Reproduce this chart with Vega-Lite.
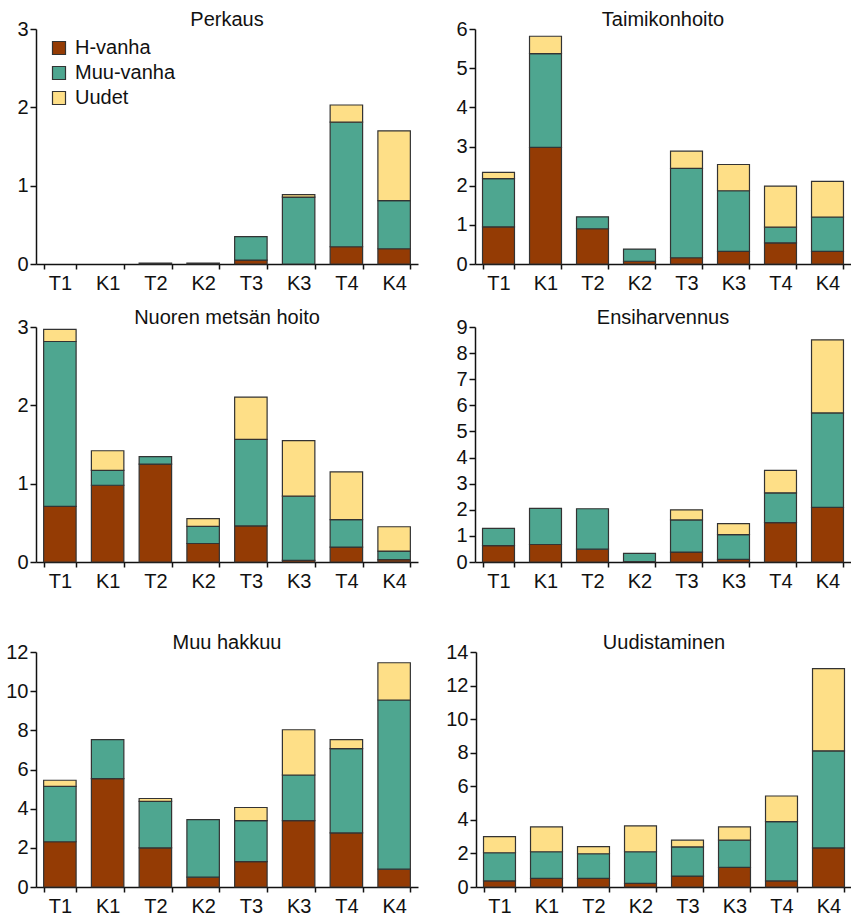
{
  "$schema": "https://vega.github.io/schema/vega-lite/v6.json",
  "padding": {"left": 5, "top": 10, "right": 0, "bottom": 0},
  "config": {
    "font": "Liberation Sans",
    "view": {"stroke": null},
    "title": {"fontSize": 20, "fontWeight": "normal", "color": "#111", "offset": -11, "frame": "group"},
    "axis": {"grid": false, "domainColor": "#111", "tickColor": "#111", "labelColor": "#111", "labelFontSize": 20, "domainWidth": 1.5, "tickWidth": 1.5},
    "axisX": {"tickBand": "extent", "tickSize": 5, "labelAngle": 0, "labelPadding": 4},
    "axisY": {"tickSize": 6, "labelPadding": 2, "minExtent": 30, "maxExtent": 30},
    "bar": {"stroke": "#333", "strokeWidth": 1.2}
  },
  "datasets": {
    "d": [
      {"p": "Perkaus", "c": "T2", "s": "H-vanha", "v": 0.01},
      {"p": "Perkaus", "c": "K2", "s": "Muu-vanha", "v": 0.01},
      {"p": "Perkaus", "c": "T3", "s": "H-vanha", "v": 0.05},
      {"p": "Perkaus", "c": "T3", "s": "Muu-vanha", "v": 0.30},
      {"p": "Perkaus", "c": "K3", "s": "Muu-vanha", "v": 0.855},
      {"p": "Perkaus", "c": "K3", "s": "Uudet", "v": 0.03},
      {"p": "Perkaus", "c": "T4", "s": "H-vanha", "v": 0.22},
      {"p": "Perkaus", "c": "T4", "s": "Muu-vanha", "v": 1.59},
      {"p": "Perkaus", "c": "T4", "s": "Uudet", "v": 0.22},
      {"p": "Perkaus", "c": "K4", "s": "H-vanha", "v": 0.195},
      {"p": "Perkaus", "c": "K4", "s": "Muu-vanha", "v": 0.615},
      {"p": "Perkaus", "c": "K4", "s": "Uudet", "v": 0.89},

      {"p": "Taimikonhoito", "c": "T1", "s": "H-vanha", "v": 0.95},
      {"p": "Taimikonhoito", "c": "T1", "s": "Muu-vanha", "v": 1.23},
      {"p": "Taimikonhoito", "c": "T1", "s": "Uudet", "v": 0.16},
      {"p": "Taimikonhoito", "c": "K1", "s": "H-vanha", "v": 2.98},
      {"p": "Taimikonhoito", "c": "K1", "s": "Muu-vanha", "v": 2.39},
      {"p": "Taimikonhoito", "c": "K1", "s": "Uudet", "v": 0.445},
      {"p": "Taimikonhoito", "c": "T2", "s": "H-vanha", "v": 0.9},
      {"p": "Taimikonhoito", "c": "T2", "s": "Muu-vanha", "v": 0.305},
      {"p": "Taimikonhoito", "c": "K2", "s": "H-vanha", "v": 0.07},
      {"p": "Taimikonhoito", "c": "K2", "s": "Muu-vanha", "v": 0.31},
      {"p": "Taimikonhoito", "c": "T3", "s": "H-vanha", "v": 0.16},
      {"p": "Taimikonhoito", "c": "T3", "s": "Muu-vanha", "v": 2.28},
      {"p": "Taimikonhoito", "c": "T3", "s": "Uudet", "v": 0.44},
      {"p": "Taimikonhoito", "c": "K3", "s": "H-vanha", "v": 0.32},
      {"p": "Taimikonhoito", "c": "K3", "s": "Muu-vanha", "v": 1.55},
      {"p": "Taimikonhoito", "c": "K3", "s": "Uudet", "v": 0.67},
      {"p": "Taimikonhoito", "c": "T4", "s": "H-vanha", "v": 0.54},
      {"p": "Taimikonhoito", "c": "T4", "s": "Muu-vanha", "v": 0.40},
      {"p": "Taimikonhoito", "c": "T4", "s": "Uudet", "v": 1.05},
      {"p": "Taimikonhoito", "c": "K4", "s": "H-vanha", "v": 0.32},
      {"p": "Taimikonhoito", "c": "K4", "s": "Muu-vanha", "v": 0.88},
      {"p": "Taimikonhoito", "c": "K4", "s": "Uudet", "v": 0.91},

      {"p": "Nuoren metsän hoito", "c": "T1", "s": "H-vanha", "v": 0.71},
      {"p": "Nuoren metsän hoito", "c": "T1", "s": "Muu-vanha", "v": 2.105},
      {"p": "Nuoren metsän hoito", "c": "T1", "s": "Uudet", "v": 0.155},
      {"p": "Nuoren metsän hoito", "c": "K1", "s": "H-vanha", "v": 0.98},
      {"p": "Nuoren metsän hoito", "c": "K1", "s": "Muu-vanha", "v": 0.19},
      {"p": "Nuoren metsän hoito", "c": "K1", "s": "Uudet", "v": 0.25},
      {"p": "Nuoren metsän hoito", "c": "T2", "s": "H-vanha", "v": 1.25},
      {"p": "Nuoren metsän hoito", "c": "T2", "s": "Muu-vanha", "v": 0.095},
      {"p": "Nuoren metsän hoito", "c": "K2", "s": "H-vanha", "v": 0.236},
      {"p": "Nuoren metsän hoito", "c": "K2", "s": "Muu-vanha", "v": 0.218},
      {"p": "Nuoren metsän hoito", "c": "K2", "s": "Uudet", "v": 0.10},
      {"p": "Nuoren metsän hoito", "c": "T3", "s": "H-vanha", "v": 0.46},
      {"p": "Nuoren metsän hoito", "c": "T3", "s": "Muu-vanha", "v": 1.105},
      {"p": "Nuoren metsän hoito", "c": "T3", "s": "Uudet", "v": 0.54},
      {"p": "Nuoren metsän hoito", "c": "K3", "s": "H-vanha", "v": 0.02},
      {"p": "Nuoren metsän hoito", "c": "K3", "s": "Muu-vanha", "v": 0.82},
      {"p": "Nuoren metsän hoito", "c": "K3", "s": "Uudet", "v": 0.71},
      {"p": "Nuoren metsän hoito", "c": "T4", "s": "H-vanha", "v": 0.19},
      {"p": "Nuoren metsän hoito", "c": "T4", "s": "Muu-vanha", "v": 0.35},
      {"p": "Nuoren metsän hoito", "c": "T4", "s": "Uudet", "v": 0.61},
      {"p": "Nuoren metsän hoito", "c": "K4", "s": "H-vanha", "v": 0.03},
      {"p": "Nuoren metsän hoito", "c": "K4", "s": "Muu-vanha", "v": 0.11},
      {"p": "Nuoren metsän hoito", "c": "K4", "s": "Uudet", "v": 0.31},

      {"p": "Ensiharvennus", "c": "T1", "s": "H-vanha", "v": 0.63},
      {"p": "Ensiharvennus", "c": "T1", "s": "Muu-vanha", "v": 0.66},
      {"p": "Ensiharvennus", "c": "K1", "s": "H-vanha", "v": 0.67},
      {"p": "Ensiharvennus", "c": "K1", "s": "Muu-vanha", "v": 1.38},
      {"p": "Ensiharvennus", "c": "T2", "s": "H-vanha", "v": 0.49},
      {"p": "Ensiharvennus", "c": "T2", "s": "Muu-vanha", "v": 1.55},
      {"p": "Ensiharvennus", "c": "K2", "s": "H-vanha", "v": 0.02},
      {"p": "Ensiharvennus", "c": "K2", "s": "Muu-vanha", "v": 0.31},
      {"p": "Ensiharvennus", "c": "T3", "s": "H-vanha", "v": 0.38},
      {"p": "Ensiharvennus", "c": "T3", "s": "Muu-vanha", "v": 1.23},
      {"p": "Ensiharvennus", "c": "T3", "s": "Uudet", "v": 0.39},
      {"p": "Ensiharvennus", "c": "K3", "s": "H-vanha", "v": 0.1},
      {"p": "Ensiharvennus", "c": "K3", "s": "Muu-vanha", "v": 0.95},
      {"p": "Ensiharvennus", "c": "K3", "s": "Uudet", "v": 0.42},
      {"p": "Ensiharvennus", "c": "T4", "s": "H-vanha", "v": 1.51},
      {"p": "Ensiharvennus", "c": "T4", "s": "Muu-vanha", "v": 1.14},
      {"p": "Ensiharvennus", "c": "T4", "s": "Uudet", "v": 0.86},
      {"p": "Ensiharvennus", "c": "K4", "s": "H-vanha", "v": 2.09},
      {"p": "Ensiharvennus", "c": "K4", "s": "Muu-vanha", "v": 3.62},
      {"p": "Ensiharvennus", "c": "K4", "s": "Uudet", "v": 2.8},

      {"p": "Muu hakkuu", "c": "T1", "s": "H-vanha", "v": 2.31},
      {"p": "Muu hakkuu", "c": "T1", "s": "Muu-vanha", "v": 2.83},
      {"p": "Muu hakkuu", "c": "T1", "s": "Uudet", "v": 0.31},
      {"p": "Muu hakkuu", "c": "K1", "s": "H-vanha", "v": 5.53},
      {"p": "Muu hakkuu", "c": "K1", "s": "Muu-vanha", "v": 2.0},
      {"p": "Muu hakkuu", "c": "T2", "s": "H-vanha", "v": 2.0},
      {"p": "Muu hakkuu", "c": "T2", "s": "Muu-vanha", "v": 2.37},
      {"p": "Muu hakkuu", "c": "T2", "s": "Uudet", "v": 0.15},
      {"p": "Muu hakkuu", "c": "K2", "s": "H-vanha", "v": 0.5},
      {"p": "Muu hakkuu", "c": "K2", "s": "Muu-vanha", "v": 2.94},
      {"p": "Muu hakkuu", "c": "T3", "s": "H-vanha", "v": 1.3},
      {"p": "Muu hakkuu", "c": "T3", "s": "Muu-vanha", "v": 2.09},
      {"p": "Muu hakkuu", "c": "T3", "s": "Uudet", "v": 0.67},
      {"p": "Muu hakkuu", "c": "K3", "s": "H-vanha", "v": 3.39},
      {"p": "Muu hakkuu", "c": "K3", "s": "Muu-vanha", "v": 2.33},
      {"p": "Muu hakkuu", "c": "K3", "s": "Uudet", "v": 2.31},
      {"p": "Muu hakkuu", "c": "T4", "s": "H-vanha", "v": 2.76},
      {"p": "Muu hakkuu", "c": "T4", "s": "Muu-vanha", "v": 4.31},
      {"p": "Muu hakkuu", "c": "T4", "s": "Uudet", "v": 0.46},
      {"p": "Muu hakkuu", "c": "K4", "s": "H-vanha", "v": 0.91},
      {"p": "Muu hakkuu", "c": "K4", "s": "Muu-vanha", "v": 8.64},
      {"p": "Muu hakkuu", "c": "K4", "s": "Uudet", "v": 1.9},

      {"p": "Uudistaminen", "c": "T1", "s": "H-vanha", "v": 0.36},
      {"p": "Uudistaminen", "c": "T1", "s": "Muu-vanha", "v": 1.68},
      {"p": "Uudistaminen", "c": "T1", "s": "Uudet", "v": 0.96},
      {"p": "Uudistaminen", "c": "K1", "s": "H-vanha", "v": 0.51},
      {"p": "Uudistaminen", "c": "K1", "s": "Muu-vanha", "v": 1.59},
      {"p": "Uudistaminen", "c": "K1", "s": "Uudet", "v": 1.48},
      {"p": "Uudistaminen", "c": "T2", "s": "H-vanha", "v": 0.51},
      {"p": "Uudistaminen", "c": "T2", "s": "Muu-vanha", "v": 1.47},
      {"p": "Uudistaminen", "c": "T2", "s": "Uudet", "v": 0.43},
      {"p": "Uudistaminen", "c": "K2", "s": "H-vanha", "v": 0.22},
      {"p": "Uudistaminen", "c": "K2", "s": "Muu-vanha", "v": 1.88},
      {"p": "Uudistaminen", "c": "K2", "s": "Uudet", "v": 1.54},
      {"p": "Uudistaminen", "c": "T3", "s": "H-vanha", "v": 0.65},
      {"p": "Uudistaminen", "c": "T3", "s": "Muu-vanha", "v": 1.74},
      {"p": "Uudistaminen", "c": "T3", "s": "Uudet", "v": 0.40},
      {"p": "Uudistaminen", "c": "K3", "s": "H-vanha", "v": 1.17},
      {"p": "Uudistaminen", "c": "K3", "s": "Muu-vanha", "v": 1.62},
      {"p": "Uudistaminen", "c": "K3", "s": "Uudet", "v": 0.79},
      {"p": "Uudistaminen", "c": "T4", "s": "H-vanha", "v": 0.36},
      {"p": "Uudistaminen", "c": "T4", "s": "Muu-vanha", "v": 3.54},
      {"p": "Uudistaminen", "c": "T4", "s": "Uudet", "v": 1.52},
      {"p": "Uudistaminen", "c": "K4", "s": "H-vanha", "v": 2.33},
      {"p": "Uudistaminen", "c": "K4", "s": "Muu-vanha", "v": 5.78},
      {"p": "Uudistaminen", "c": "K4", "s": "Uudet", "v": 4.9}
    ]
  },
  "spacing": 42,
  "vconcat": [
    {
      "spacing": 15,
      "vconcat": [
        {
          "spacing": 27,
          "hconcat": [
            {
              "title": "Perkaus", "width": 382, "height": 235,
              "data": {"name": "d"},
              "transform": [{"filter": "datum.p == 'Perkaus'"}],
              "mark": "bar",
              "encoding": {
                "x": {"field": "c", "type": "nominal", "title": null, "scale": {"domain": ["T1","K1","T2","K2","T3","K3","T4","K4"], "paddingInner": 0.32, "paddingOuter": 0.16}},
                "y": {"field": "v", "type": "quantitative", "stack": "zero", "title": null, "scale": {"domain": [0, 3], "nice": false}, "axis": {"values": [0, 1, 2, 3]}},
                "order": {"field": "s", "sort": "ascending"},
                "color": {"field": "s", "type": "nominal", "scale": {"domain": ["H-vanha", "Muu-vanha", "Uudet"], "range": ["#943B04", "#4EA690", "#FEDF87"]},
                  "legend": {"orient": "none", "legendX": 13, "legendY": 9, "title": null, "symbolType": "square", "symbolSize": 169, "symbolStrokeColor": "#333", "symbolStrokeWidth": 1.5, "symbolOpacity": 1, "labelFontSize": 20, "labelColor": "#111", "labelOffset": 6, "rowPadding": 5, "padding": 0}}
              }
            },
            {
              "title": "Taimikonhoito", "width": 376, "height": 235,
              "data": {"name": "d"},
              "transform": [{"filter": "datum.p == 'Taimikonhoito'"}],
              "mark": "bar",
              "encoding": {
                "x": {"field": "c", "type": "nominal", "title": null, "scale": {"domain": ["T1","K1","T2","K2","T3","K3","T4","K4"], "paddingInner": 0.32, "paddingOuter": 0.16}},
                "y": {"field": "v", "type": "quantitative", "stack": "zero", "title": null, "scale": {"domain": [0, 6], "nice": false}, "axis": {"values": [0, 1, 2, 3, 4, 5, 6]}},
                "order": {"field": "s", "sort": "ascending"},
                "color": {"field": "s", "type": "nominal", "scale": {"domain": ["H-vanha", "Muu-vanha", "Uudet"], "range": ["#943B04", "#4EA690", "#FEDF87"]}}
              }
            }
          ]
        },
        {
          "spacing": 27,
          "hconcat": [
            {
              "title": "Nuoren metsän hoito", "width": 382, "height": 235,
              "data": {"name": "d"},
              "transform": [{"filter": "datum.p == 'Nuoren metsän hoito'"}],
              "mark": "bar",
              "encoding": {
                "x": {"field": "c", "type": "nominal", "title": null, "scale": {"domain": ["T1","K1","T2","K2","T3","K3","T4","K4"], "paddingInner": 0.32, "paddingOuter": 0.16}},
                "y": {"field": "v", "type": "quantitative", "stack": "zero", "title": null, "scale": {"domain": [0, 3], "nice": false}, "axis": {"values": [0, 1, 2, 3]}},
                "order": {"field": "s", "sort": "ascending"},
                "color": {"field": "s", "type": "nominal", "scale": {"domain": ["H-vanha", "Muu-vanha", "Uudet"], "range": ["#943B04", "#4EA690", "#FEDF87"]}}
              }
            },
            {
              "title": "Ensiharvennus", "width": 376, "height": 235,
              "data": {"name": "d"},
              "transform": [{"filter": "datum.p == 'Ensiharvennus'"}],
              "mark": "bar",
              "encoding": {
                "x": {"field": "c", "type": "nominal", "title": null, "scale": {"domain": ["T1","K1","T2","K2","T3","K3","T4","K4"], "paddingInner": 0.32, "paddingOuter": 0.16}},
                "y": {"field": "v", "type": "quantitative", "stack": "zero", "title": null, "scale": {"domain": [0, 9], "nice": false}, "axis": {"values": [0, 1, 2, 3, 4, 5, 6, 7, 8, 9]}},
                "order": {"field": "s", "sort": "ascending"},
                "color": {"field": "s", "type": "nominal", "scale": {"domain": ["H-vanha", "Muu-vanha", "Uudet"], "range": ["#943B04", "#4EA690", "#FEDF87"]}}
              }
            }
          ]
        }
      ]
    },
    {
      "spacing": 27,
      "hconcat": [
        {
          "title": "Muu hakkuu", "width": 382, "height": 235,
          "data": {"name": "d"},
          "transform": [{"filter": "datum.p == 'Muu hakkuu'"}],
          "mark": "bar",
          "encoding": {
            "x": {"field": "c", "type": "nominal", "title": null, "scale": {"domain": ["T1","K1","T2","K2","T3","K3","T4","K4"], "paddingInner": 0.32, "paddingOuter": 0.16}},
            "y": {"field": "v", "type": "quantitative", "stack": "zero", "title": null, "scale": {"domain": [0, 12], "nice": false}, "axis": {"values": [0, 2, 4, 6, 8, 10, 12]}},
            "order": {"field": "s", "sort": "ascending"},
            "color": {"field": "s", "type": "nominal", "scale": {"domain": ["H-vanha", "Muu-vanha", "Uudet"], "range": ["#943B04", "#4EA690", "#FEDF87"]}}
          }
        },
        {
          "title": "Uudistaminen", "width": 376, "height": 235,
          "data": {"name": "d"},
          "transform": [{"filter": "datum.p == 'Uudistaminen'"}],
          "mark": "bar",
          "encoding": {
            "x": {"field": "c", "type": "nominal", "title": null, "scale": {"domain": ["T1","K1","T2","K2","T3","K3","T4","K4"], "paddingInner": 0.32, "paddingOuter": 0.16}},
            "y": {"field": "v", "type": "quantitative", "stack": "zero", "title": null, "scale": {"domain": [0, 14], "nice": false}, "axis": {"values": [0, 2, 4, 6, 8, 10, 12, 14]}},
            "order": {"field": "s", "sort": "ascending"},
            "color": {"field": "s", "type": "nominal", "scale": {"domain": ["H-vanha", "Muu-vanha", "Uudet"], "range": ["#943B04", "#4EA690", "#FEDF87"]}}
          }
        }
      ]
    }
  ]
}
